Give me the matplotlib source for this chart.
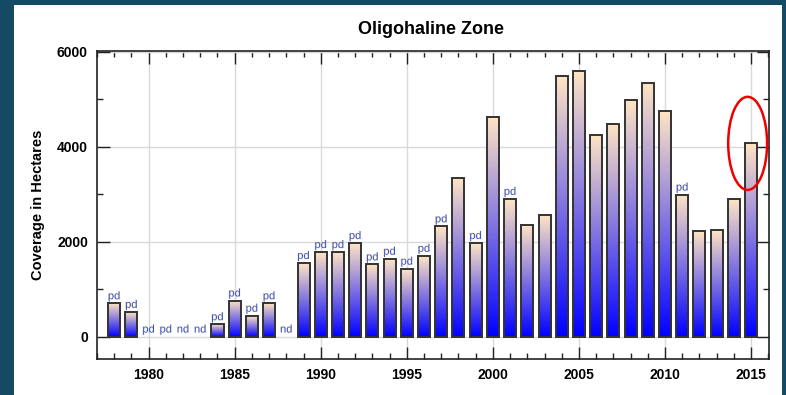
import numpy as np
import matplotlib
matplotlib.use("Agg")
import matplotlib.pyplot as plt
from matplotlib.patches import Ellipse, Rectangle
from matplotlib.colors import LinearSegmentedColormap
import matplotlib.patheffects as pe

plt.rcParams['font.family'] = ['Liberation Sans', 'DejaVu Sans']

years = list(range(1978, 2016))
coverage = [700, 520, 0, 0, 0, 0, 260, 760, 440, 700, 0,
            1550, 1780, 1780, 1970, 1520, 1640, 1430, 1700, 2320, 3340,
            1970, 4630, 2900, 2350, 2560, 5480, 5600, 4250, 4480, 4990,
            5340, 4750, 2990, 2220, 2250, 2900, 4070]
flags = ["pd", "pd", "pd", "pd", "nd", "nd", "pd", "pd", "pd", "pd", "nd",
         "pd", "pd", "pd", "pd", "pd", "pd", "pd", "pd", "pd", "",
         "pd", "", "pd", "", "", "", "", "", "", "",
         "", "", "pd", "", "", "", ""]
x_ticks = [1980, 1985, 1990, 1995, 2000, 2005, 2010, 2015]
y_ticks = [0, 2000, 4000, 6000]
highlight_year = 2015

W, H = 786, 395
fig = plt.figure(figsize=(W / 100, H / 100), dpi=100)
fig.patch.set_facecolor('#144a63')
panel = Rectangle((14 / W, 0), (782 - 14) / W, 1 - 5 / H,
                  transform=fig.transFigure, facecolor='white',
                  edgecolor='none', zorder=-10)
fig.patches.append(panel)

ax = fig.add_axes([97 / W, 36 / H, (769 - 97) / W, (359 - 51) / H])
ax.set_zorder(1)
ax.set_facecolor('white')

# vertical/horizontal grid
ax.set_xticks(x_ticks)
ax.set_yticks(y_ticks)
ax.grid(True, color='#d9d9d9', linewidth=1.0, zorder=0)
ax.set_axisbelow(True)

cmap = LinearSegmentedColormap.from_list('bar', ['#0000ff', '#ffe4c4'])
grad = np.linspace(0, 1, 256).reshape(-1, 1)
bw = 0.7
for yr, val, fl in zip(years, coverage, flags):
    if val > 0:
        ax.imshow(grad, cmap=cmap, origin='lower', aspect='auto',
                  extent=(yr - bw / 2, yr + bw / 2, 0, val), zorder=2,
                  interpolation='bilinear')
        ax.add_patch(Rectangle((yr - bw / 2, 0), bw, val, facecolor='none',
                               edgecolor='#333333', linewidth=1.4, zorder=3))
    if fl:
        t = ax.annotate(fl, (yr, val), xytext=(0, 1.5), textcoords='offset points',
                        ha='center', va='bottom', fontsize=8, color='#3355c4',
                        zorder=4)
        t.set_path_effects([pe.SimplePatchShadow(offset=(-0.5, 0.3),
                                                 shadow_rgbFace='#ffc27a',
                                                 alpha=0.55),
                            pe.Normal()])

# red highlight ring around the latest year
hv = coverage[years.index(highlight_year)]
ax.add_patch(Ellipse((highlight_year - 0.2, hv), 2.26, 1960, facecolor='none',
                     edgecolor='#ee0000', linewidth=1.8, zorder=5, clip_on=False))

ax.set_xlim(1977.0, 2016.04)
ax.set_ylim(-470, 6015)

for s in ax.spines.values():
    s.set_color('#222222')
    s.set_linewidth(1.2)

ax.xaxis.set_minor_locator(matplotlib.ticker.MultipleLocator(1))
ax.yaxis.set_minor_locator(matplotlib.ticker.MultipleLocator(1000))
ax.tick_params(which='major', direction='in', length=9, width=1.0,
               top=True, right=True, color='#222222')
ax.tick_params(which='minor', direction='in', length=4, width=1.0,
               top=True, right=True, color='#222222')
ax.tick_params(axis='both', which='major', pad=6.5)
for lab in ax.get_xticklabels() + ax.get_yticklabels():
    lab.set_fontweight('bold')
    lab.set_fontsize(10)

ax.set_ylabel('Coverage in Hectares', fontsize=10.5, fontweight='bold')
ax.yaxis.set_label_coords((45 - 97) / (769 - 97), 0.5)

fig.text(431 / W, 1 - 30 / H, 'Oligohaline Zone', ha='center', va='center',
         fontsize=13, fontweight='bold')

fig.savefig('out.png', dpi=100, facecolor=fig.get_facecolor())
